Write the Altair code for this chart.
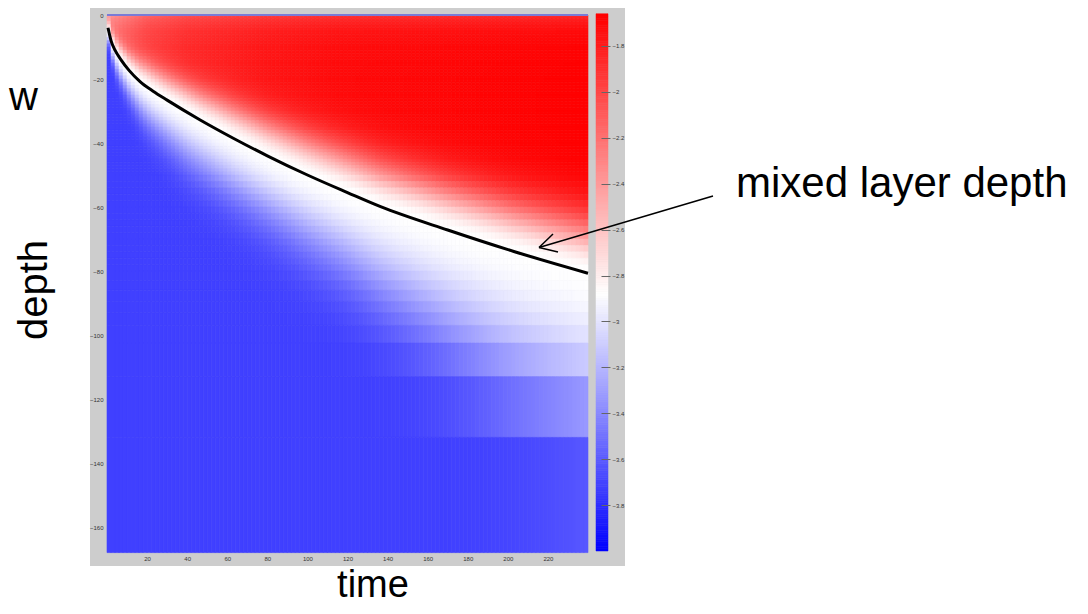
import altair as alt
import numpy as np
import pandas as pd

alt.data_transformers.disable_max_rows()

# ---- values ----
# mixed layer depth curve (time, depth)
mld_t = [0.5, 2, 4, 7, 11, 16.5, 23, 30, 46.5, 63, 80, 100, 120, 136.5, 170, 203, 240]
mld_d = [-4, -8, -11, -14, -17.3, -20.8, -23.8, -26.6, -32.8, -38.5, -44, -50, -55.5, -59.9, -67.2, -73.9, -80.7]

# thickness of the white->blue transition below the mixed layer
wb_t = [0, 5, 20, 40, 80, 120, 160, 200, 240]
wb_w = [3, 6, 11, 15, 19, 24, 32, 41, 48]

# thickness of the white->red transition above the mixed layer base
wr_t = [0, 20, 60, 120, 240]
wr_w = [3, 7, 10, 13, 16]

# strongest value in the mixed layer over time
rmax_t = [0, 20, 40, 80, 120, 200, 240]
rmax_v = [-2.2, -1.95, -1.85, -1.76, -1.71, -1.68, -1.67]

deep_value = -3.72
white_value = -2.88

# vertical grid cell edges (fine near the surface, coarse at depth)
depth_edges = (list(np.arange(0, -50, -1.0)) + list(np.arange(-50, -80, -2.0)) +
               [-80, -83, -86, -89.5, -93, -97, -102.5, -113, -132, -168])
time_step = 2.0
time_edges = list(np.arange(0, 240 + time_step, time_step))

cbar_ticks = [-1.8, -2, -2.2, -2.4, -2.6, -2.8, -3, -3.2, -3.4, -3.6, -3.8]
x_ticks = [20, 40, 60, 80, 100, 120, 140, 160, 180, 200, 220]
y_ticks = [0, -20, -40, -60, -80, -100, -120, -140, -160]

# ---- build the field table ----
rows = []
for i in range(len(time_edges) - 1):
    t0, t1 = time_edges[i], time_edges[i + 1]
    tc = 0.5 * (t0 + t1)
    h = np.interp(tc, mld_t, mld_d)
    wb = np.interp(tc, wb_t, wb_w)
    wr = np.interp(tc, wr_t, wr_w)
    rm = np.interp(tc, rmax_t, rmax_v)
    for j in range(len(depth_edges) - 1):
        d0, d1 = depth_edges[j], depth_edges[j + 1]
        z = 0.5 * (d0 + d1)
        if z < h:
            dz = h - z
            frac = np.exp(-(dz / wb) ** 2)
            v = deep_value + (white_value - deep_value) * frac
        else:
            du = z - h
            r = rm - 0.2 * np.exp(z / 4.0)
            g = 1 - np.exp(-(du / wr) ** 2)
            v = white_value + (r - white_value) * g
        rows.append({"t0": t0, "t1": t1, "d0": d0, "d1": d1, "v": float(v)})
field = pd.DataFrame(rows)

mld_df = pd.DataFrame({"t": mld_t, "d": mld_d})

cb_vals = np.arange(-4.0, -1.665, 0.01)
cbar = pd.DataFrame({"v0": cb_vals, "v1": cb_vals + 0.0105, "v": cb_vals + 0.005})

color_scale = alt.Scale(domain=[-4.0, white_value, -1.665],
                        range=["#0000ff", "#ffffff", "#ff0000"], interpolate="rgb")
xs = alt.Scale(domain=[0, 240], nice=False, zero=False)
ys = alt.Scale(domain=[-167.5, 0], nice=False, zero=False)

one = pd.DataFrame({"k": [0]})

W, H = 481, 536

background = alt.Chart(one).mark_rect(color="#cdcdcd").encode(
    x=alt.value(-17), x2=alt.value(518), y=alt.value(-10), y2=alt.value(551))

axis_style = dict(title=None, labelFontSize=6, labelColor="#333", ticks=False, domain=False,
                  grid=False, labelPadding=4, zindex=2, labelFont="Liberation Sans")

heat = alt.Chart(field).mark_rect(strokeWidth=0.6).encode(
    x=alt.X("t0:Q", scale=xs, axis=alt.Axis(values=x_ticks, **axis_style)),
    x2="t1:Q",
    y=alt.Y("d0:Q", scale=ys, axis=alt.Axis(values=y_ticks, **axis_style)),
    y2="d1:Q",
    color=alt.Color("v:Q", scale=color_scale, legend=None),
    stroke=alt.Stroke("v:Q", scale=color_scale, legend=None),
)

line = alt.Chart(mld_df).mark_line(color="black", strokeWidth=3, interpolate="monotone").encode(
    x=alt.X("t:Q", scale=xs), y=alt.Y("d:Q", scale=ys))

top_rule = alt.Chart(pd.DataFrame({"d": [0]})).mark_rule(color="#7b7bd6", strokeWidth=2).encode(
    y=alt.Y("d:Q", scale=ys), x=alt.value(0), x2=alt.value(W))

inner = alt.layer(heat, line, top_rule)

colorbar = alt.Chart(cbar).mark_rect(strokeWidth=0.5).encode(
    x=alt.value(489), x2=alt.value(501),
    y=alt.Y("v0:Q", scale=alt.Scale(domain=[-4.0, -1.665], nice=False, zero=False),
            axis=alt.Axis(orient="right", values=cbar_ticks, title=None, offset=13, format="~g",
                          tickSize=9, tickColor="#666", labelFontSize=6, labelColor="#333",
                          domain=False, grid=False, labelPadding=2, zindex=2,
                          labelFont="Liberation Sans")),
    y2="v1:Q",
    color=alt.Color("v:Q", scale=color_scale, legend=None),
    stroke=alt.Stroke("v:Q", scale=color_scale, legend=None),
)

font = "Liberation Sans"
def label(txt, x, y, size=40, angle=0, align="left", baseline="alphabetic"):
    kw = dict(text=txt, fontSize=size, font=font, color="black", align=align, baseline=baseline)
    if angle:
        kw["angle"] = angle
    return alt.Chart(one).mark_text(**kw).encode(x=alt.value(x), y=alt.value(y))

ox, oy = 107, 15  # page coordinates of plot origin
t_w = label("w", 9 - ox, 110 - oy)
t_depth = label("depth", 35 - ox, 290 - oy, angle=270, align="center", baseline="middle")
t_time = label("time", 373 - ox, 597 - oy, size=38, align="center")
t_mld = label("mixed layer depth", 736 - ox, 197 - oy, size=42, baseline="alphabetic")

arrow = alt.Chart(one).mark_rule(color="black", strokeWidth=1.5).encode(
    x=alt.value(713 - ox), y=alt.value(196 - oy), x2=alt.value(539 - ox), y2=alt.value(247.5 - oy))
head1 = alt.Chart(one).mark_rule(color="black", strokeWidth=1.5).encode(
    x=alt.value(539 - ox), y=alt.value(247.5 - oy), x2=alt.value(553 - ox), y2=alt.value(234 - oy))
head2 = alt.Chart(one).mark_rule(color="black", strokeWidth=1.5).encode(
    x=alt.value(539 - ox), y=alt.value(247.5 - oy), x2=alt.value(558 - ox), y2=alt.value(252 - oy))

chart = alt.layer(background, inner, colorbar, t_w, t_depth, t_time, t_mld, arrow, head1, head2).resolve_scale(
    y="independent").properties(
    width=W, height=H,
    autosize=alt.AutoSizeParams(type="none"),
    padding={"left": 99, "top": 7, "right": 492, "bottom": 55},
).configure_view(stroke=None).configure(background="white")

chart.save("out.html", embed_options={"renderer": "svg", "actions": False})
